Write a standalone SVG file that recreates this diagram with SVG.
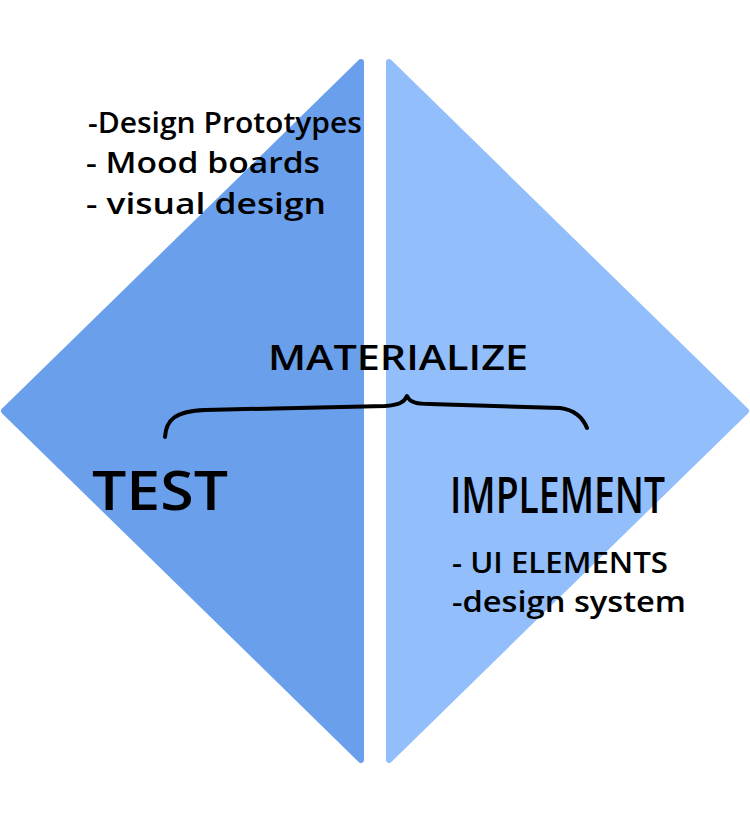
<svg xmlns="http://www.w3.org/2000/svg" width="750" height="822" viewBox="0 0 750 822">
<style>
.t{font-family:"Open Sans","Liberation Sans",sans-serif;font-weight:600;fill:#000;}
.brace{fill:none;stroke:#000;stroke-width:4;stroke-linecap:round;stroke-linejoin:round;}
</style>
<rect width="750" height="822" fill="#fff"/>
<g id="left-half">
<polygon points="361,62 4,411 361,760" fill="#6A9FEB" stroke="#6A9FEB" stroke-width="6" stroke-linejoin="round"/>
</g>
<g id="right-half">
<polygon points="389,62 746,411 389,760" fill="#92BEFB" stroke="#92BEFB" stroke-width="6" stroke-linejoin="round"/>
</g>
<g id="design-list">
<text class="t" x="88" y="133" font-size="28" textLength="274" lengthAdjust="spacingAndGlyphs">-Design Prototypes</text>
<text class="t" x="86" y="173" font-size="28" textLength="234" lengthAdjust="spacingAndGlyphs">- Mood boards</text>
<text class="t" x="86" y="214" font-size="28" textLength="240" lengthAdjust="spacingAndGlyphs">- visual design</text>
</g>
<g id="materialize">
<text class="t" x="268" y="370" font-size="34" textLength="260" lengthAdjust="spacingAndGlyphs">MATERIALIZE</text>
</g>
<g id="connectors">
<path class="brace" d="M165,437 C166,420 175,411 205,410 L385,406 C398,405 404,403 407,396 C410,403 418,404 430,404 L560,408 C575,410 583,418 587,428"/>
</g>
<g id="test">
<text class="t" x="92" y="510" font-size="54" textLength="136" lengthAdjust="spacingAndGlyphs">TEST</text>
</g>
<g id="implement">
<text class="t" x="450" y="513" font-size="50" textLength="215" lengthAdjust="spacingAndGlyphs">IMPLEMENT</text>
<text class="t" x="452" y="573" font-size="28" textLength="216" lengthAdjust="spacingAndGlyphs">- UI ELEMENTS</text>
<text class="t" x="452" y="612" font-size="28" textLength="234" lengthAdjust="spacingAndGlyphs">-design system</text>
</g>
</svg>
